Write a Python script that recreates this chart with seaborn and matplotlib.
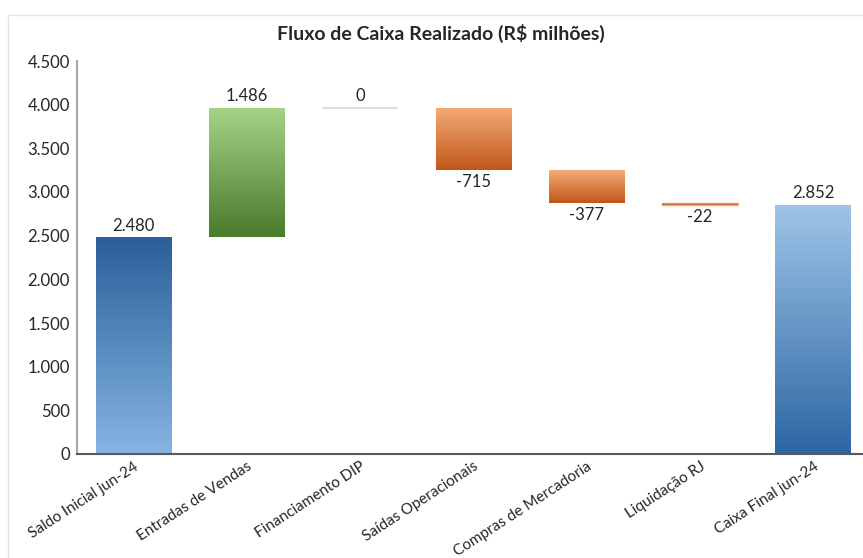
import numpy as np
import pandas as pd
import matplotlib
matplotlib.use("Agg")
import matplotlib.pyplot as plt
import matplotlib.ticker as mticker
from matplotlib.colors import LinearSegmentedColormap
from matplotlib.patches import Rectangle
import seaborn as sns

# data (R$ milhões)
categories = ["Saldo Inicial jun-24", "Entradas de Vendas", "Financiamento DIP",
              "Saídas Operacionais", "Compras de Mercadoria", "Liquidação RJ",
              "Caixa Final jun-24"]
values = [2480, 1486, 0, -715, -377, -22, 2852]
kinds = ["total", "delta", "delta", "delta", "delta", "delta", "total"]
y_ticks = [0, 500, 1000, 1500, 2000, 2500, 3000, 3500, 4000, 4500]

# waterfall bottoms / heights
bottoms, heights = [], []
running = 0
for v, k in zip(values, kinds):
    if k == "total":
        bottoms.append(0)
        heights.append(v)
        running = v
    else:
        start = running
        running += v
        bottoms.append(min(start, running))
        heights.append(abs(v))
tops = [b + h for b, h in zip(bottoms, heights)]

df = pd.DataFrame({"Categoria": categories, "Topo": tops})

# gradients (top colour, bottom colour)
grads = {
    "first": ("#2a5f99", "#86b5e3"),
    "pos": ("#a5d487", "#4a7a2c"),
    "neg": ("#f4ac78", "#c1561b"),
    "last": ("#9fc5e8", "#2c66a3"),
}

sns.set_style("white")
plt.rcParams["font.family"] = ["Lato", "DejaVu Sans"]

fig = plt.figure(figsize=(8.63, 5.58), dpi=100)
ax = fig.add_axes([77 / 863, 1 - 454 / 558, (870 - 77) / 863, (454 - 61) / 558])

sns.barplot(data=df, x="Categoria", y="Topo", width=0.67, color="white", ax=ax)

for i, p in enumerate(ax.patches):
    p.set_y(bottoms[i])
    p.set_height(heights[i])
    if i == 0:
        key = "first"
    elif i == len(values) - 1:
        key = "last"
    elif values[i] >= 0:
        key = "pos"
    else:
        key = "neg"
    c_top, c_bot = grads[key]
    if values[i] == 0:
        p.set_facecolor("none")
        p.set_edgecolor("#d8dccf")
        p.set_linewidth(1.2)
        continue
    p.set_facecolor("none")
    p.set_edgecolor(c_top if heights[i] < 50 else "none")
    p.set_linewidth(1.0)
    cmap = LinearSegmentedColormap.from_list(key, [c_bot, c_top])
    x0 = p.get_x()
    w = p.get_width()
    grad = np.linspace(0, 1, 256).reshape(-1, 1)
    im = ax.imshow(grad, cmap=cmap, aspect="auto", origin="lower",
                   extent=[x0, x0 + w, bottoms[i], tops[i]], zorder=2)
    im.set_clip_path(p)

# value labels
for i, v in enumerate(values):
    txt = f"{v:,}".replace(",", ".")
    if v >= 0:
        ax.text(i, tops[i] + 40, txt, ha="center", va="bottom", fontsize=12)
    else:
        ax.text(i, bottoms[i] - 50, txt, ha="center", va="top", fontsize=12)

ax.set_xlim(-0.5, 6.5)
ax.set_ylim(0, 4500)
ax.set_yticks(y_ticks)
ax.yaxis.set_major_formatter(mticker.FuncFormatter(lambda x, _: f"{int(x):,}".replace(",", ".")))
ax.tick_params(axis="y", labelsize=12, length=0, pad=5)
ax.tick_params(axis="x", labelsize=11, length=0, pad=4)
plt.setp(ax.get_xticklabels(), rotation=33, ha="right", rotation_mode="anchor")
ax.set_xlabel("")
ax.set_ylabel("")

for s in ["top", "right"]:
    ax.spines[s].set_visible(False)
ax.spines["left"].set_color("#a6a6a6")
ax.spines["left"].set_linewidth(1.5)
ax.spines["bottom"].set_color("#595959")
ax.spines["bottom"].set_linewidth(1.5)

fig.text(441 / 863, 1 - 33 / 558, "Fluxo de Caixa Realizado (R\\$ milhões)",
         ha="center", va="center", fontsize=14, fontweight="bold")

# outer chart frame
fig.patches.append(Rectangle((8 / 863, -0.01), 1.0, 1 - 15 / 558 + 0.01,
                             transform=fig.transFigure, fill=False,
                             edgecolor="#e3e3e3", linewidth=1, zorder=0))

fig.savefig("out.png", dpi=100)
